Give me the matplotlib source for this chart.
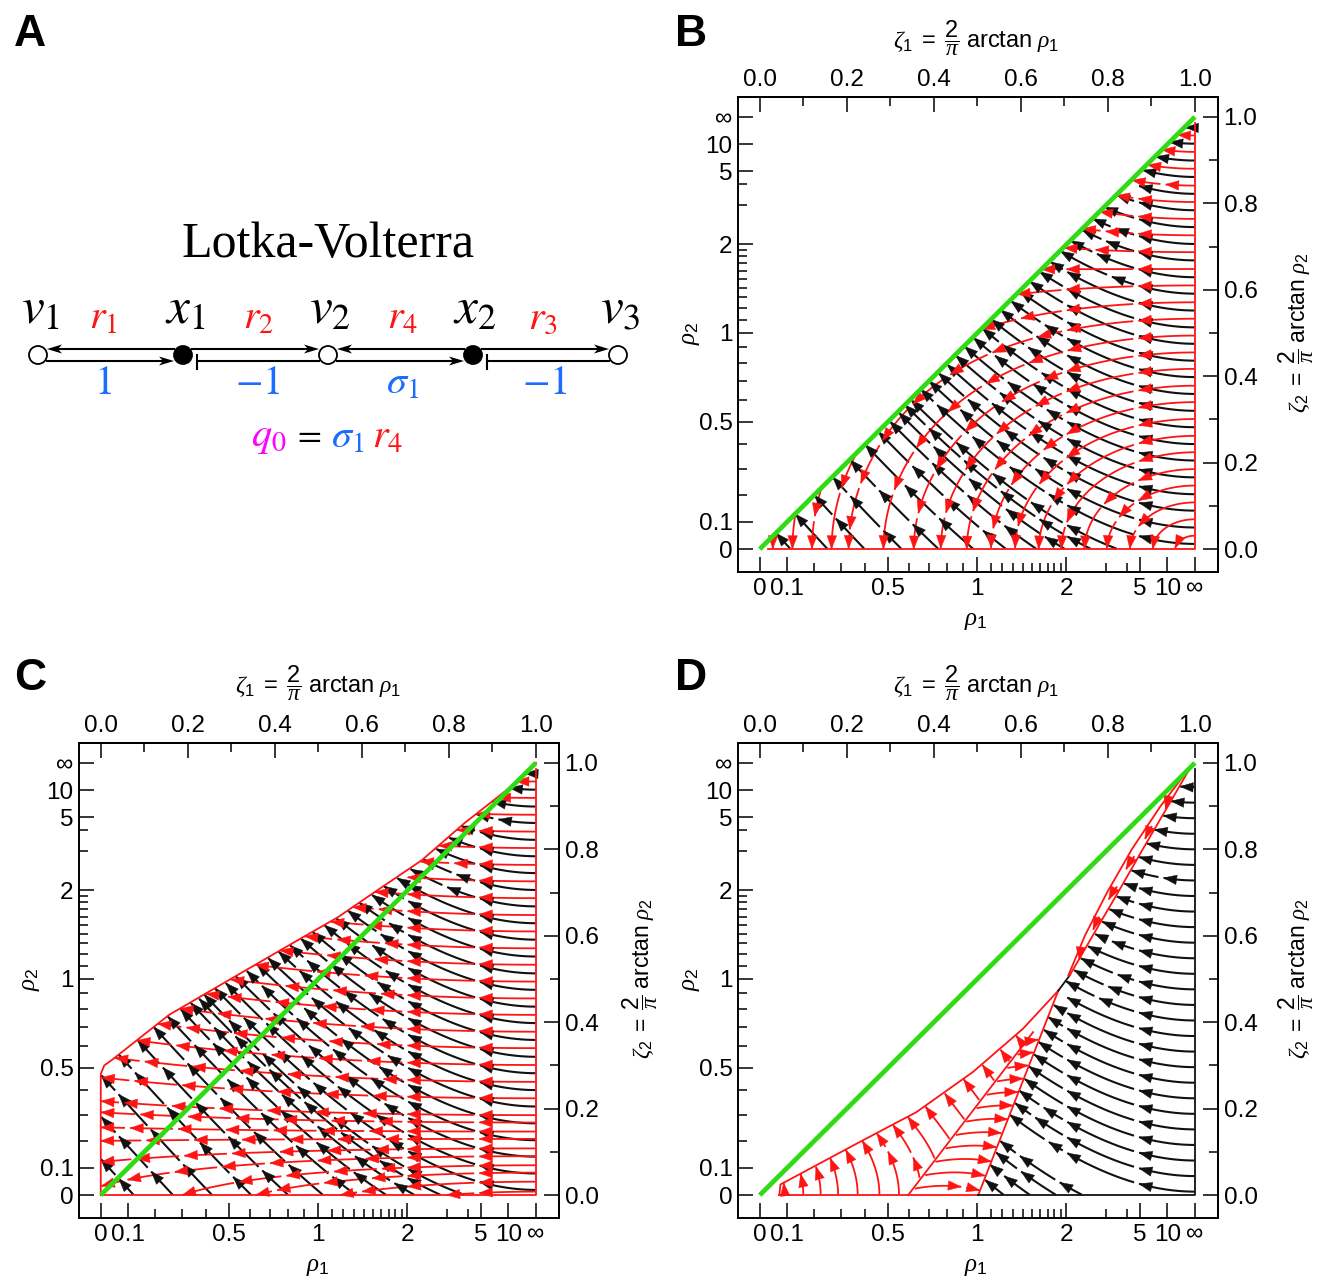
import math
import numpy as np
import matplotlib
matplotlib.use("Agg")
import matplotlib.pyplot as plt
from matplotlib.collections import LineCollection, PolyCollection

plt.rcParams['font.family'] = ['Liberation Sans', 'DejaVu Sans']
plt.rcParams['mathtext.fontset'] = 'custom'
plt.rcParams['mathtext.rm'] = 'Liberation Sans'
plt.rcParams['mathtext.it'] = 'Liberation Serif:italic'
plt.rcParams['mathtext.bf'] = 'Liberation Sans:bold'

W, H = 1319, 1281
BLACK = '#111111'
RED = '#ff1414'
GREEN = '#2fdc14'
BLUE = '#1c6cff'
MAGENTA = '#ff00ff'

# ---- tick values (rho axes are drawn at zeta = 2/pi arctan rho) ----
rho_major = [0, 0.1, 0.5, 1, 2, 5, 10, np.inf]
rho_labels = ['0', '0.1', '0.5', '1', '2', '5', '10', '∞']
rho_minor = [0.2, 0.3, 0.4, 0.6, 0.7, 0.8, 0.9, 1.1, 1.2, 1.3, 1.4, 1.5,
             1.6, 1.7, 1.8, 1.9, 3, 4]
zeta_major = [0.0, 0.2, 0.4, 0.6, 0.8, 1.0]
zeta_minor = [0.1, 0.3, 0.5, 0.7, 0.9]

# ---- streamline seeds (zeta coordinates) ----
edge_black = [0.012, 0.05, 0.089, 0.127, 0.166, 0.205, 0.243, 0.282, 0.32,
              0.359, 0.398, 0.436, 0.475, 0.513, 0.552, 0.591, 0.629, 0.668,
              0.706, 0.745, 0.784, 0.822, 0.861, 0.899, 0.938, 0.975]
edge_red = [0.031, 0.069, 0.108, 0.147, 0.185, 0.224, 0.262, 0.301, 0.34,
            0.378, 0.417, 0.455, 0.494, 0.533, 0.571, 0.61, 0.648, 0.687,
            0.726, 0.764, 0.803, 0.841, 0.88, 0.919, 0.957]
edge_red_c = [0.008, 0.031, 0.052, 0.069, 0.09, 0.108, 0.13, 0.147, 0.168, 0.185,
              0.224, 0.262, 0.301, 0.34, 0.378, 0.417, 0.455, 0.494, 0.533,
              0.571, 0.61, 0.648, 0.687, 0.726, 0.764, 0.803, 0.841, 0.88, 0.919, 0.957]
bottom_black_b = [0.07, 0.155, 0.24, 0.325, 0.41, 0.49, 0.565, 0.635, 0.70, 0.76, 0.82]
bottom_black_c = [0.075, 0.165, 0.255, 0.345, 0.43, 0.51, 0.585, 0.655, 0.72, 0.78, 0.835]
bottom_red_b = [0.03, 0.075, 0.12, 0.165, 0.21, 0.255, 0.3]
edge_black_d = [0.008, 0.044, 0.08, 0.116, 0.152, 0.188, 0.224, 0.26, 0.296,
                0.332, 0.368, 0.404, 0.44, 0.476, 0.512, 0.548, 0.584, 0.62,
                0.656, 0.692, 0.728, 0.764, 0.8, 0.836, 0.872, 0.908, 0.944]
bottom_black_d = [0.56, 0.62, 0.68, 0.74]
d_left_bottom = [0.057, 0.1, 0.14, 0.18, 0.225, 0.275, 0.32]
d_left_inner = [0.04, 0.085, 0.13, 0.175, 0.22, 0.265, 0.31, 0.35]
d_right_inner = [0.015, 0.046, 0.077, 0.108, 0.139, 0.17, 0.201, 0.232,
                 0.263, 0.294, 0.325, 0.356]
d_sliver_marks = [0.56, 0.63, 0.70, 0.77, 0.84, 0.91]

# ---- region boundaries ----
c_top_x = [0.0, 0.008, 0.026, 0.157, 0.302, 0.448, 0.545, 0.641, 0.738, 0.835, 0.93, 1.0]
c_top_y = [0.28, 0.30, 0.313, 0.417, 0.502, 0.587, 0.643, 0.709, 0.775, 0.86, 0.935, 1.0]
d_top_x = [0.045, 0.0475, 0.23, 0.36, 0.49, 0.605, 0.686]
d_top_y = [0.0, 0.0246, 0.123, 0.192, 0.285, 0.385, 0.473]
d_edge_x = [0.502, 0.686, 0.712, 0.765, 0.823, 0.880, 0.938, 0.987]
d_edge_y = [0.0, 0.473, 0.508, 0.6, 0.7, 0.8, 0.9, 0.985]
d_sliver_x = [0.709, 0.747, 0.798, 0.855, 0.921, 0.985]
d_sliver_y = [0.508, 0.6, 0.7, 0.8, 0.9, 0.985]
d_inner_x = [0.341, 0.628]
d_inner_y = [0.0, 0.377]


def zeta(r):
    return 2 / np.pi * np.arctan(r)


# ---- flow fields in zeta coordinates ----
def black_field(x, y):
    return -1.0, 1.1 * (1 - x) * (1 + 1.1 * x)


def red_field_b(x, y):
    # elliptic arcs around the (1, 0) corner, lifted near the top
    g = 1 - (y / 0.65) ** 4
    return -1.82 * (y + 0.003), -(1 - x) * g


def red_field_c(x, y):
    return -(y + 0.1), (1 - x) * 0.3 * (y - 0.135)


def inner_d(y):
    return d_inner_x[0] + y * (d_inner_x[1] - d_inner_x[0]) / d_inner_y[1]


def red_left_d(x, y):
    return -min(5 * y, 0.75), 1.0


def red_right_d(x, y):
    return 1.0, 0.2 - 3.0 * (x - inner_d(y))


def inside_b(x, y):
    return 0 <= y <= x and x <= 1.0


def inside_c(x, y):
    return 0 <= x <= 1.0 and 0 <= y <= np.interp(x, c_top_x, c_top_y)


def inside_d_black(x, y):
    return y >= 0 and x <= 1.0 and y <= 0.99 and x >= np.interp(y, d_edge_y, d_edge_x)


def inside_d_left(x, y):
    return y >= 0 and x >= 0.045 and x <= inner_d(y) and y <= np.interp(x, d_top_x, d_top_y)


def inside_d_right(x, y):
    return (y >= 0 and x >= inner_d(y) and x <= np.interp(y, d_edge_y, d_edge_x)
            and y <= np.interp(x, d_top_x, d_top_y))


def trace(field, inside, p0, sign=1.0, step=0.003, nmax=1500):
    x, y = p0
    pts = [(x, y)]
    for _ in range(nmax):
        u, v = field(x, y)
        n = math.hypot(u, v)
        if n == 0:
            break
        xm, ym = x + 0.5 * step * sign * u / n, y + 0.5 * step * sign * v / n
        u, v = field(xm, ym)
        n = math.hypot(u, v)
        if n == 0:
            break
        x, y = x + step * sign * u / n, y + step * sign * v / n
        if not inside(x, y):
            break
        pts.append((x, y))
    return np.array(pts)


class Flow:
    """Collects arrowed streamline pieces of one colour."""

    def __init__(self, color, lw, hl=0.03, hw=0.011):
        self.color, self.lw, self.hl, self.hw = color, lw, hl, hw
        self.lines, self.heads = [], []

    def add(self, pts, phase=0.0, L=0.11, gap=0.012, breaks=(0.87, 0.705)):
        if len(pts) < 3:
            return
        d = np.hypot(*np.diff(pts, axis=0).T)
        s = np.concatenate([[0.0], np.cumsum(d)])
        total = s[-1]
        if total < 0.015:
            return
        cuts = []
        for b in breaks:
            hit = np.nonzero((pts[:-1, 0] > b) & (pts[1:, 0] <= b))[0]
            if len(hit) and s[hit[0]] > 0.05 and total - s[hit[0]] > 0.02:
                cuts.append(s[hit[0]])
        c = (cuts[-1] if cuts else 0.0) + L * (0.45 + 0.55 * phase)
        while c < total - 0.04:
            cuts.append(c)
            c += L
        cuts.append(total)

        def at(v):
            return np.array([np.interp(v, s, pts[:, 0]), np.interp(v, s, pts[:, 1])])

        a = 0.0
        for c in cuts:
            if c - a < 0.012:
                a = c + gap
                continue
            mask = (s > a) & (s < c)
            seg = np.vstack([at(a), pts[mask], at(c)])
            self.lines.append(seg)
            tip = at(c)
            dv = tip - at(max(c - 0.012, a))
            dv = dv / np.hypot(*dv)
            pv = np.array([-dv[1], dv[0]])
            base = tip - self.hl * dv
            self.heads.append([tip, base + self.hw * pv, base - self.hw * pv])
            a = c + gap

    def draw(self, ax, z):
        ax.add_collection(LineCollection(self.lines, colors=self.color, linewidths=self.lw,
                                         capstyle='butt', zorder=z))
        ax.add_collection(PolyCollection(self.heads, facecolors=self.color,
                                         edgecolors=self.color, linewidths=0.3, zorder=z + 1))


fig = plt.figure(figsize=(W / 100, H / 100), dpi=100)


def px(x, y):
    return x / W, 1 - y / H


def frame(left, top, right, bottom):
    ax = fig.add_axes([left / W, 1 - bottom / H, (right - left) / W, (bottom - top) / H])
    ax.set_xlim(-0.05, 1.053)
    ax.set_ylim(-0.053, 1.046)
    ticks = [zeta(r) for r in rho_major]
    mticks = [zeta(r) for r in rho_minor]
    ax.set_xticks(ticks)
    ax.set_xticklabels(rho_labels)
    ax.set_yticks(ticks)
    ax.set_yticklabels(rho_labels)
    ax.set_xticks(mticks, minor=True)
    ax.set_yticks(mticks, minor=True)
    top_ax = ax.secondary_xaxis('top')
    right_ax = ax.secondary_yaxis('right')
    for setm in (top_ax.set_xticks, right_ax.set_yticks):
        setm(zeta_major)
        setm(zeta_minor, minor=True)
    top_ax.set_xticklabels(['%.1f' % v for v in zeta_major])
    right_ax.set_yticklabels(['%.1f' % v for v in zeta_major])
    for a in (ax, top_ax, right_ax):
        a.tick_params(which='major', direction='in', length=11, width=1.1,
                      labelsize=17.5, pad=4)
        a.tick_params(which='minor', direction='in', length=6.5, width=1.1)
    for a in (ax, top_ax, right_ax):
        for sp in a.spines.values():
            sp.set_linewidth(1.4)
    return ax


def labels(cx, ty, rx, cy, lx, by):
    title = r'$\zeta_{%d}\ =\ \dfrac{2}{\pi}\ \mathrm{arctan}\ \rho_{%d}$'
    fig.text(*px(cx, ty), title % (1, 1), ha='center', va='center', fontsize=17)
    fig.text(*px(rx, cy), title % (2, 2), ha='center', va='center', fontsize=16.5, rotation=90)
    fig.text(*px(lx, cy), r'$\rho_2$', ha='center', va='center', fontsize=18, rotation=90)
    fig.text(*px(cx, by), r'$\rho_1$', ha='center', va='center', fontsize=18)


def diagonal(ax):
    ax.plot([0, 1], [0, 1], color=GREEN, lw=3.4, solid_capstyle='butt', zorder=8)


# ================= panel B =================
axb = frame(738, 97, 1218, 572)
blk, red = Flow(BLACK, 1.5), Flow(RED, 1.3)
for i, h in enumerate(edge_black):
    blk.add(trace(black_field, inside_b, (0.999, h)), phase=(i * 0.618) % 1)
for i, x0 in enumerate(bottom_black_b):
    blk.add(trace(black_field, inside_b, (x0, 0.001)), phase=(i * 0.381) % 1)
landing = []
for i, h in enumerate(edge_red):
    p = trace(red_field_b, inside_b, (0.999, h))
    if p[-1, 1] < 0.012:
        landing.append(p[-1, 0])
    red.add(p, phase=(i * 0.618 + 0.3) % 1)
for i, xb in enumerate(bottom_red_b):
    if landing and min(abs(xb - v) for v in landing) < 0.03:
        continue
    p = trace(red_field_b, inside_b, (xb, 0.001), sign=-1.0)[::-1]
    red.add(p, phase=(i * 0.381 + 0.5) % 1)
blk.draw(axb, 2)
red.draw(axb, 2.2)
axb.plot([0.02, 1, 1], [0, 0, 0.985], color=RED, lw=1.3, zorder=6)
diagonal(axb)
labels(976, 38, 1296, 333, 690, 620)

# ================= panel C =================
axc = frame(79, 743, 559, 1218)
blk, red = Flow(BLACK, 1.5), Flow(RED, 1.3)
for i, h in enumerate(edge_black):
    blk.add(trace(black_field, inside_c, (0.999, h)), phase=(i * 0.618) % 1)
for i, x0 in enumerate(bottom_black_c):
    blk.add(trace(black_field, inside_c, (x0, 0.001)), phase=(i * 0.381) % 1)
for i, h in enumerate(edge_red_c):
    red.add(trace(red_field_c, inside_c, (0.999, h)), phase=(i * 0.618 + 0.3) % 1)
blk.draw(axc, 2)
red.draw(axc, 2.2)
axc.plot([0] + c_top_x, [0] + c_top_y, color=RED, lw=1.3, zorder=6)
axc.plot([0, 1, 1], [0, 0, 0.985], color=RED, lw=1.3, zorder=6)
diagonal(axc)
labels(318, 683, 640, 979, 30, 1266)

# ================= panel D =================
axd = frame(738, 743, 1218, 1218)
blk, red = Flow(BLACK, 1.5), Flow(RED, 1.3)
for i, h in enumerate(edge_black_d):
    blk.add(trace(black_field, inside_d_black, (0.999, h)), phase=(i * 0.618) % 1)
for i, x0 in enumerate(bottom_black_d):
    blk.add(trace(black_field, inside_d_black, (x0, 0.001)), phase=(i * 0.381) % 1)
for i, x0 in enumerate(d_left_bottom):
    red.add(trace(red_left_d, inside_d_left, (x0, 0.001)), phase=0.9)
for i, y0 in enumerate(d_left_inner):
    red.add(trace(red_left_d, inside_d_left, (inner_d(y0) - 0.004, y0)), phase=(i * 0.618) % 1)
for i, y0 in enumerate(d_right_inner):
    red.add(trace(red_right_d, inside_d_right, (inner_d(y0) + 0.004, y0)), phase=0.95)
for y0 in d_sliver_marks:
    xr = np.interp(y0, d_edge_y, d_edge_x)
    xl = np.interp(y0, d_sliver_y, d_sliver_x)
    mark = np.array([[xr - 0.002, y0 + 0.014], [0.5 * (xl + xr), y0], [xl + 0.004, y0 - 0.016]])
    red.add(mark, L=1.0)
blk.draw(axd, 2)
red.draw(axd, 2.2)
axd.plot(d_top_x, d_top_y, color=RED, lw=1.3, zorder=6)
axd.plot([d_top_x[0], 0.502], [0, 0], color=RED, lw=1.3, zorder=6)
axd.plot(d_inner_x, d_inner_y, color=RED, lw=1.3, zorder=6)
axd.plot(d_edge_x[:2], d_edge_y[:2], color=RED, lw=1.3, zorder=6)
axd.plot(d_edge_x[1:3], d_edge_y[1:3], color=BLACK, lw=1.3, zorder=6)
axd.plot(d_edge_x[2:], d_edge_y[2:], color=RED, lw=1.3, zorder=6)
axd.plot(d_sliver_x, d_sliver_y, color=RED, lw=1.3, zorder=6)
axd.plot([0.502, 1, 1], [0, 0, 0.985], color=BLACK, lw=1.3, zorder=6)
diagonal(axd)
labels(976, 683, 1296, 979, 690, 1266)

# ================= panel A: network diagram =================
axa = fig.add_axes([0, 0.5, 0.5, 0.5])
axa.set_xlim(0, W / 2)
axa.set_ylim(H / 2, 0)
axa.axis('off')

node_x = [38, 183, 328, 473, 618]
node_filled = [False, True, False, True, False]
node_names = [r'$v_1$', r'$x_1$', r'$v_2$', r'$x_2$', r'$v_3$']
rate_x = [103, 258, 403, 543]
rate_names = [r'$r_1$', r'$r_2$', r'$r_4$', r'$r_3$']
coef_x = [103, 258, 403, 545]
coef_names = [r'$1$', r'$-1$', r'$\sigma_1$', r'$-1$']
# upper arrows: (from, to); lower links: (from, to, kind)
upper_links = [(1, 0), (1, 2), (3, 2), (3, 4)]
lower_links = [(0, 1, 'arrow'), (1, 2, 'bar'), (2, 3, 'arrow'), (3, 4, 'bar')]
NODE_Y, UP_Y, LOW_Y, R = 355, 349, 361, 9


def head_a(xt, y, direction):
    L, w, notch = 15, 4.5, 4
    axa.add_patch(plt.Polygon([(xt, y), (xt - direction * L, y - w),
                               (xt - direction * (L - notch), y), (xt - direction * L, y + w)],
                              closed=True, color='black', lw=0, zorder=4))


for a, b in upper_links:
    d = 1 if node_x[b] > node_x[a] else -1
    x0, x1 = node_x[a] + d * R, node_x[b] - d * R
    axa.plot([x0, x1 - d * 8], [UP_Y, UP_Y], color='black', lw=1.5, zorder=3)
    head_a(x1, UP_Y, d)
for a, b, kind in lower_links:
    x0, x1 = node_x[a] + R, node_x[b] - R
    if kind == 'arrow':
        axa.plot([x0, x1 - 8], [LOW_Y, LOW_Y], color='black', lw=1.5, zorder=3)
        head_a(x1, LOW_Y, 1)
    else:
        xs = node_x[a] + 14
        axa.plot([xs, x1], [LOW_Y, LOW_Y], color='black', lw=1.5, zorder=3)
        axa.plot([xs, xs], [LOW_Y - 6, LOW_Y + 8], color='black', lw=1.5, zorder=3)
for x, filled in zip(node_x, node_filled):
    axa.add_patch(plt.Circle((x, NODE_Y), R, facecolor='black' if filled else 'white',
                             edgecolor='black', lw=1.3, zorder=5))

serif = dict(math_fontfamily='stix', ha='center', va='center')
for x, t in zip(node_x, node_names):
    axa.text(x + 2, 310, t, fontsize=37, color='black', **serif)
for x, t in zip(rate_x, rate_names):
    axa.text(x, 318, t, fontsize=29, color=RED, **serif)
for x, t in zip(coef_x, coef_names):
    axa.text(x, 383, t, fontsize=29, color=BLUE, **serif)
axa.text(328, 245, 'Lotka-Volterra', fontsize=36, family='Liberation Serif',
         ha='center', va='center')
axa.text(269, 437, r'$q_0$', fontsize=29, color=MAGENTA, **serif)
axa.text(307, 434, r'$=$', fontsize=25, color='black', **serif)
axa.text(348, 437, r'$\sigma_1$', fontsize=29, color=BLUE, **serif)
axa.text(388, 437, r'$r_4$', fontsize=29, color=RED, **serif)

# panel letters
for letter, (x, y) in zip('ABCD', [(30, 34), (691, 34), (30, 679), (691, 679)]):
    fig.text(*px(x, y), letter, fontsize=32, fontweight='bold', ha='center', va='center')

fig.savefig('out.png', dpi=100)
